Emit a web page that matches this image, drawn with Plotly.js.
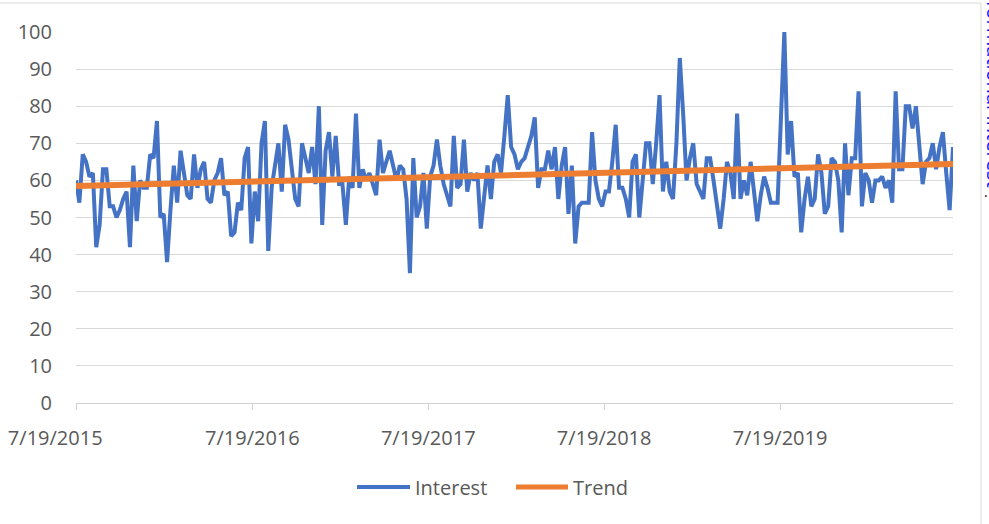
<!DOCTYPE html>
<html>
<head>
<meta charset="utf-8">
<script src="https://cdn.plot.ly/plotly-3.0.1.min.js"></script>
<style>html,body{margin:0;padding:0;background:#fff;}#chart{width:989px;height:524px;}</style>
</head>
<body>
<div id="chart"></div>
<script>
// Weekly series starting 7/19/2015
const startDate = '2015-07-19';
const interest = [
60,54,67,65,61,62,42,48,63,63,53,53,50,52,55,57,42,64,49,60,
58,58,67,66,76,50,51,38,52,64,54,68,62,56,55,67,58,63,65,55,
54,60,62,66,56,57,45,46,54,52,66,69,43,57,49,70,76,41,58,64,
70,57,75,71,64,55,53,70,66,62,69,59,80,48,68,73,61,72,59,59,
48,61,58,78,58,63,60,62,59,56,71,62,65,68,64,60,64,63,55,35,
66,50,53,62,47,61,64,71,64,59,56,53,72,58,59,71,57,62,60,62,
47,55,64,55,65,67,62,72,83,69,67,63,65,66,69,72,77,58,63,63,
68,63,69,55,64,69,51,64,43,53,54,54,54,73,60,55,53,57,57,65,
75,58,58,55,50,65,67,50,60,70,70,59,70,83,57,65,57,55,70,93,
78,60,66,70,59,57,55,66,66,60,54,47,55,65,62,55,78,55,60,56,
65,57,49,56,61,58,54,54,54,77,100,67,76,61,62,46,55,61,53,55,
67,62,51,53,66,65,60,46,70,56,66,66,84,53,62,60,54,60,60,61,
58,60,54,84,63,63,80,80,74,80,68,59,65,66,70,63,69,73,62,52,
69
];
const trendEnds = [58.5, 64.4];
const seriesNames = ['Interest', 'Trend'];
const tickVals = ['2015-07-19','2016-07-19','2017-07-19','2018-07-19','2019-07-19'];
const tickText = ['7/19/2015','7/19/2016','7/19/2017','7/19/2018','7/19/2019'];
const sideText = 'Informational Interest';

function addDays(s, n){const d=new Date(s+'T00:00:00Z');d.setUTCDate(d.getUTCDate()+n);return d.toISOString().slice(0,10);}
const dates = interest.map((_,i)=>addDays(startDate, 7*i));
const trendX = [dates[0], dates[dates.length-1]];
// first label sits a little left of its tick in the reference
const tickTextShown = tickText.map((t,i)=> i===0 ? t + '\u00A0'.repeat(8) : t);

const FAM = '"Open Sans", Lato, sans-serif';
const GREY = '#595959';
const BLUE = '#4472C4', ORANGE = '#ED7D31';

const traces = [
  {x:dates, y:interest, type:'scatter', mode:'lines', name:seriesNames[0],
   line:{color:BLUE, width:4, shape:'linear'}, showlegend:false},
  {x:trendX, y:trendEnds, type:'scatter', mode:'lines', name:seriesNames[1],
   line:{color:ORANGE, width:6}, showlegend:false}
];

// plot area: x 76..953 px, y 32..403 px
const PL = 76, PW = 877, PB = 403, PH = 371;
const px = v => (v - PL) / PW;
const py = v => (PB - v) / PH;
const legY = 487;

const layout = {
  width:989, height:524,
  margin:{l:76, r:36, t:32, b:121},
  paper_bgcolor:'#ffffff', plot_bgcolor:'#ffffff',
  font:{family:FAM, color:GREY, size:20},
  showlegend:false,
  xaxis:{type:'date', range:[dates[0], dates[dates.length-1]], tickvals:tickVals, ticktext:tickTextShown,
         showgrid:false, showline:true, linecolor:'#d0d0d0', linewidth:1,
         ticks:'outside', ticklen:6, tickcolor:'#d0d0d0', ticklabelstandoff:11,
         tickfont:{family:FAM, color:GREY, size:20}, zeroline:false, fixedrange:true},
  yaxis:{range:[0,100], dtick:10, tick0:0, showgrid:true, gridcolor:'#d9d9d9', gridwidth:1,
         zeroline:false, showline:false, ticks:'', ticklabelstandoff:23,
         tickfont:{family:FAM, color:GREY, size:20}, fixedrange:true},
  shapes:[
    {type:'line', xref:'paper', yref:'paper', x0:px(981), x1:px(981), y0:py(524), y1:py(3),
     line:{color:'#d9d9d9', width:1}},
    {type:'line', xref:'paper', yref:'paper', x0:px(0), x1:px(981), y0:py(3), y1:py(3),
     line:{color:'#d9d9d9', width:1}},
    // legend keys
    {type:'line', xref:'paper', yref:'paper', x0:px(357), x1:px(410), y0:py(legY), y1:py(legY),
     line:{color:BLUE, width:4}},
    {type:'line', xref:'paper', yref:'paper', x0:px(516), x1:px(568), y0:py(legY), y1:py(legY),
     line:{color:ORANGE, width:5}}
  ],
  annotations:[
    {xref:'paper', yref:'paper', x:px(413), y:py(legY), xanchor:'left', yanchor:'middle',
     text:seriesNames[0], showarrow:false, font:{family:FAM, size:20, color:GREY}},
    {xref:'paper', yref:'paper', x:px(571), y:py(legY), xanchor:'left', yanchor:'middle',
     text:seriesNames[1], showarrow:false, font:{family:FAM, size:20, color:GREY}},
    {xref:'paper', yref:'paper', x:px(995), y:py(85), xanchor:'center', yanchor:'middle',
     text:sideText, textangle:90, showarrow:false,
     font:{family:FAM, size:20, color:'#0a0aff'}},
    {xref:'paper', yref:'paper', x:px(986), y:py(191), xanchor:'center', yanchor:'middle',
     text:'.', showarrow:false, font:{family:FAM, size:14, color:'#000'}}
  ]
};

Plotly.newPlot('chart', traces, layout, {displayModeBar:false, staticPlot:true});
</script>
</body>
</html>
